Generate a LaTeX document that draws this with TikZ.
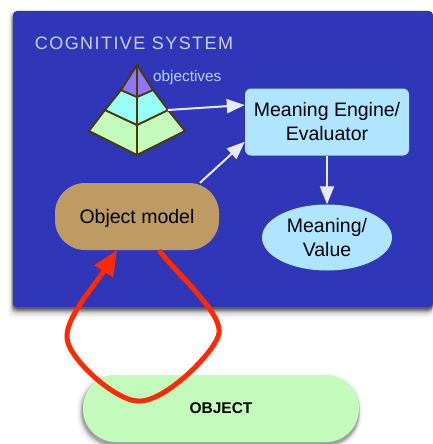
\documentclass[tikz,border=0pt]{standalone}
\usepackage{fontspec}
\setmainfont{Liberation Sans}
\usetikzlibrary{arrows.meta,shapes.geometric}
\definecolor{sysblue}{HTML}{3036B8}
\definecolor{sysline}{HTML}{4E3A00}
\definecolor{topcol}{HTML}{8F76FF}
\definecolor{midcol}{HTML}{97FFF7}
\definecolor{lowcol}{HTML}{C2FBBB}
\definecolor{modelcol}{HTML}{BE9B63}
\definecolor{enginecol}{HTML}{B0E5FF}
\definecolor{arrowcol}{HTML}{E8EAFF}
\definecolor{redcol}{HTML}{FF2A00}
\definecolor{goalcol}{HTML}{B4D2FF}
\definecolor{titlecol}{HTML}{C8D0F0}
\tikzset{
  label19/.style={font=\fontsize{19.5}{24}\selectfont,align=center,text=black,inner sep=0pt},
  pyrface/.style={draw=sysline,line width=1.8pt,line join=round},
  flow/.style={draw=arrowcol,line width=2pt,-{Triangle[length=18pt,width=14pt]}},
  loopline/.style={draw=redcol,line width=5pt,-{Triangle[length=25pt,width=21pt]}}
}
\begin{document}
\begin{tikzpicture}[x=1pt,y=-1pt]
\useasboundingbox (0,0) rectangle (433,444);
\fill[white] (0,0) rectangle (433,444);
% shadows
\foreach \s/\o in {10/0.015,8.5/0.025,7/0.04,5.5/0.06,4/0.09,3/0.12,2/0.15,1/0.18,0/0.2}{
  \fill[black,opacity=\o,rounded corners=5pt] (13-0.5*\s,11+3-0.4*\s) rectangle (433,307+2+\s);
  \fill[black,opacity=0.5*\o,rounded corners=33pt] (83-1-0.6*\s,375+3-0.4*\s) rectangle (359+0.3*\s,442+3+0.6*\s);
}
\fill[sysblue,rounded corners=4pt] (13,11) rectangle (433,307);
\node[font=\fontsize{18}{20}\selectfont\addfontfeature{LetterSpace=8},text=titlecol,inner sep=0pt] (title) at (134,43) {COGNITIVE SYSTEM};
% pyramid
\coordinate (apex) at (137,65);
\coordinate (topl) at (121,90);
\coordinate (topr) at (153,90);
\coordinate (topc) at (137,97);
\coordinate (midl) at (105,110);
\coordinate (midr) at (168,110);
\coordinate (midc) at (137,125);
\coordinate (lowl) at (89,131);
\coordinate (lowr) at (185,131);
\coordinate (lowc) at (137,155);
\filldraw[pyrface,fill=lowcol] (midl) -- (midc) -- (midr) -- (lowr) -- (lowc) -- (lowl) -- cycle;
\filldraw[pyrface,fill=midcol] (topl) -- (topc) -- (topr) -- (midr) -- (midc) -- (midl) -- cycle;
\filldraw[pyrface,fill=topcol] (apex) -- (topr) -- (topc) -- (topl) -- cycle;
\draw[pyrface] (apex) -- (lowc);
\node[font=\fontsize{15.3}{18}\selectfont,text=goalcol,inner sep=0pt,anchor=west] (goal) at (153,78) {objectives};
% nodes
\node[label19,fill=enginecol,rounded corners=6pt,minimum width=164pt,minimum height=67pt] (engine) at (327,122) {Meaning Engine/\\Evaluator};
\node[label19,fill=enginecol,ellipse,minimum width=130pt,minimum height=66pt] (value) at (327,237.5) {Meaning/\\Value};
\node[label19,fill=modelcol,rounded corners=30pt,minimum width=164pt,minimum height=67pt,text depth=0pt] (model) at (137,216.5) {Object model};
\node[fill=lowcol,rounded corners=33pt,minimum width=276pt,minimum height=67pt,inner sep=0pt,font=\fontsize{15.5}{18}\selectfont\bfseries] (object) at (221,408.5) {OBJECT};
% arrows
\draw[flow] (midr) -- ([yshift=17pt]engine.west);
\draw[flow] ([xshift=63pt]model.north) -- ([yshift=14pt]engine.south west);
\draw[flow] (engine) -- (value);
\draw[loopline] ([xshift=22pt]model.south) .. controls (175,272) and (222,312) .. (219,333)
  .. controls (217,350) and (165,403) .. (138,401)
  .. controls (115,401) and (64,355) .. (67,335)
  .. controls (68,315) and (95,285) .. ([xshift=-20pt]model.south);
\end{tikzpicture}
\end{document}
